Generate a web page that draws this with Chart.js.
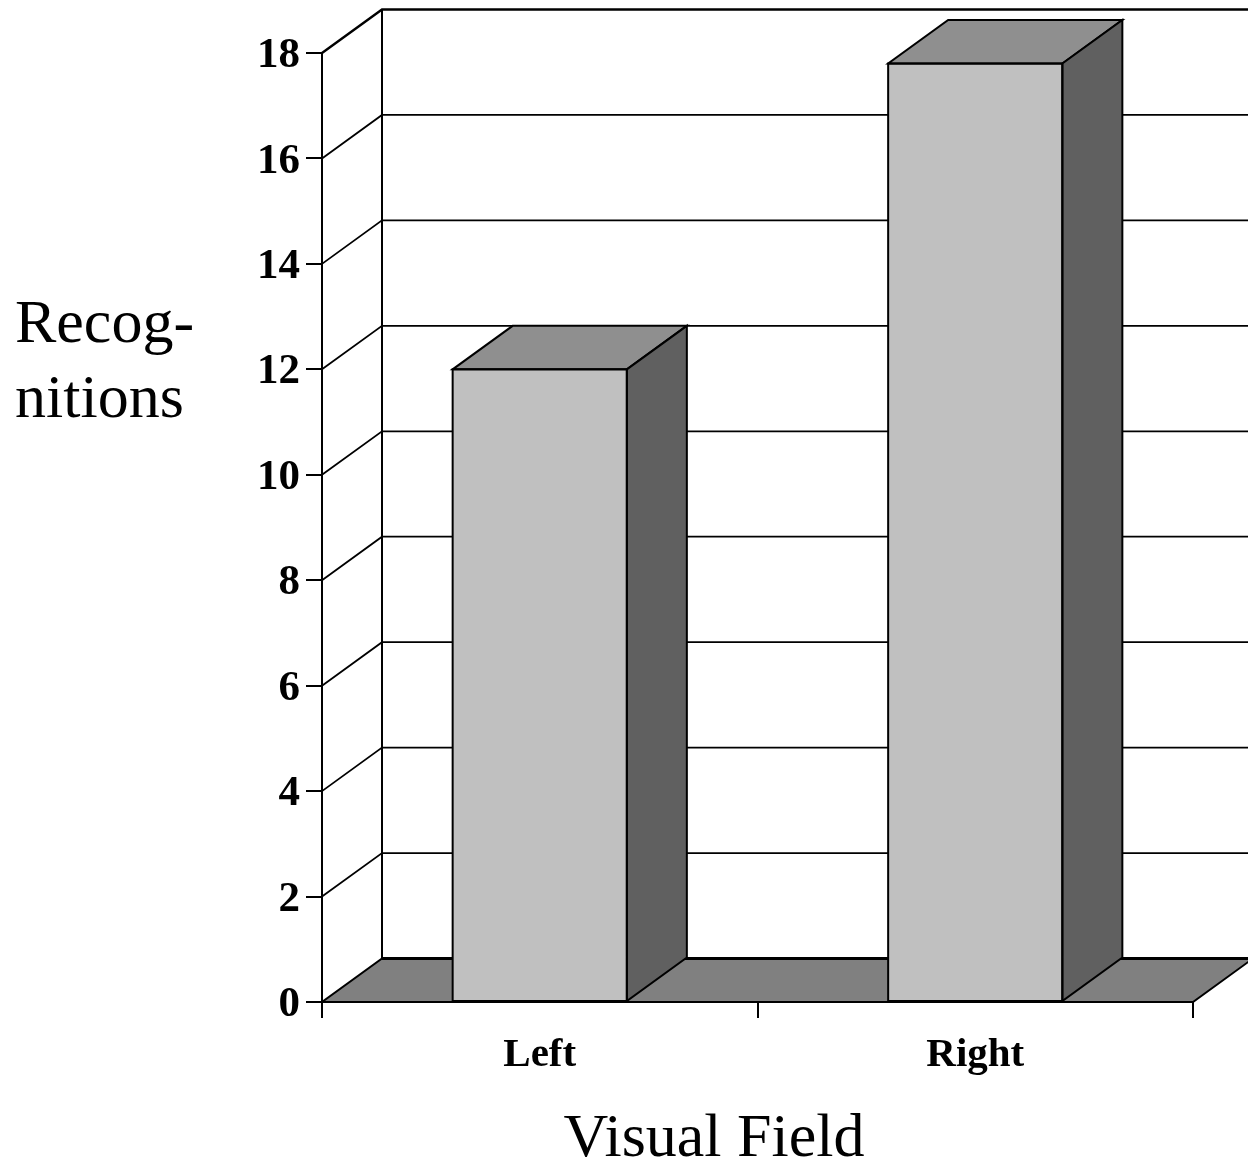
<!DOCTYPE html>
<html>
<head>
<meta charset="utf-8">
<script src="https://cdn.jsdelivr.net/npm/chart.js@4/dist/chart.umd.min.js"></script>
<style>
  html, body { margin: 0; padding: 0; background: #ffffff; }
  #wrap { width: 1248px; height: 1166px; }
</style>
</head>
<body>
<div id="wrap"><canvas id="chart" width="1248" height="1166"></canvas></div>
<script>
// Recognitions by visual field
const categories = ['Left', 'Right'];
const recognitions = [12, 17.8];
const yMin = 0;
const yMax = 18;
const yStep = 2;
const yTitleLines = ['Recog-', 'nitions'];
const xTitle = 'Visual Field';

// Depth offset of the back wall (pseudo-3D look)
const DX = 60;
const DY = -43.5;
const SERIF = '"Liberation Serif", "Times New Roman", serif';

function poly(ctx, pts, fill, lw) {
  ctx.beginPath();
  ctx.moveTo(pts[0][0], pts[0][1]);
  for (let i = 1; i < pts.length; i++) ctx.lineTo(pts[i][0], pts[i][1]);
  ctx.closePath();
  if (fill) { ctx.fillStyle = fill; ctx.fill(); }
  ctx.lineWidth = lw;
  ctx.strokeStyle = '#000000';
  ctx.lineJoin = 'miter';
  ctx.stroke();
}

const wallPlugin = {
  id: 'wall3d',
  beforeDatasetsDraw(chart) {
    const { ctx, chartArea: a, scales: { y } } = chart;
    ctx.save();
    // back wall and side wall grid lines
    ctx.strokeStyle = '#000000';
    y.ticks.forEach(t => {
      if (t.value === yMin) return;
      const py = y.getPixelForValue(t.value);
      ctx.lineWidth = t.value === yMax ? 2.4 : 1.8;
      ctx.beginPath();
      ctx.moveTo(a.left, py);
      ctx.lineTo(a.left + DX, py + DY);
      ctx.lineTo(a.right + DX, py + DY);
      ctx.stroke();
    });
    // back wall left edge
    const yTopBack = y.getPixelForValue(yMax) + DY;
    const yBotBack = y.getPixelForValue(yMin) + DY;
    ctx.lineWidth = 2;
    ctx.beginPath();
    ctx.moveTo(a.left + DX, yTopBack);
    ctx.lineTo(a.left + DX, yBotBack);
    ctx.stroke();
    // floor
    const yb = y.getPixelForValue(yMin);
    poly(ctx, [[a.left, yb], [a.right, yb], [a.right + DX, yb + DY], [a.left + DX, yb + DY]], '#808080', 2);
    ctx.lineWidth = 3;
    ctx.beginPath();
    ctx.moveTo(a.left + DX, yb + DY);
    ctx.lineTo(a.right + DX, yb + DY);
    ctx.stroke();
    ctx.restore();
  },
  afterDatasetsDraw(chart) {
    const { ctx } = chart;
    const meta = chart.getDatasetMeta(0);
    ctx.save();
    meta.data.forEach(bar => {
      const p = bar.getProps(['x', 'y', 'base', 'width'], true);
      const x0 = p.x - p.width / 2;
      const x1 = p.x + p.width / 2;
      // top face
      poly(ctx, [[x0, p.y], [x1, p.y], [x1 + DX, p.y + DY], [x0 + DX, p.y + DY]], '#8f8f8f', 2);
      // side face
      poly(ctx, [[x1, p.y], [x1 + DX, p.y + DY], [x1 + DX, p.base + DY], [x1, p.base]], '#606060', 2);
      // front outline
      ctx.lineWidth = 2;
      ctx.strokeStyle = '#000000';
      ctx.strokeRect(x0, p.y, p.width, p.base - p.y);
    });
    ctx.restore();
  },
  afterDraw(chart) {
    const { ctx } = chart;
    ctx.save();
    ctx.fillStyle = '#000000';
    ctx.textBaseline = 'alphabetic';
    ctx.font = '62px ' + SERIF;
    ctx.textAlign = 'left';
    ctx.fillText(yTitleLines[0], 15, 342);
    ctx.fillText(yTitleLines[1], 15, 417);
    ctx.textAlign = 'center';
    ctx.fillText(xTitle, 714, 1156);
    ctx.restore();
  }
};

new Chart(document.getElementById('chart'), {
  type: 'bar',
  data: {
    labels: categories,
    datasets: [{
      data: recognitions,
      backgroundColor: '#c0c0c0',
      borderColor: '#000000',
      borderWidth: 0,
      barPercentage: 0.4,
      categoryPercentage: 1.0
    }]
  },
  options: {
    responsive: false,
    animation: false,
    devicePixelRatio: 1,
    layout: { padding: { top: 53, right: 55, left: 0, bottom: 0 } },
    plugins: { legend: { display: false }, tooltip: { enabled: false } },
    scales: {
      x: {
        afterFit(scale) { scale.height = 164; },
        grid: { drawOnChartArea: false, drawTicks: true, tickLength: 16, color: '#000000', lineWidth: 2 },
        border: { display: true, color: '#000000', width: 2 },
        ticks: { color: '#000000', padding: 13, font: { family: SERIF, size: 41, weight: 'bold' } }
      },
      y: {
        min: yMin,
        max: yMax,
        afterFit(scale) { scale.width = 322; },
        grid: { drawOnChartArea: false, drawTicks: true, tickLength: 16, color: '#000000', lineWidth: 2 },
        border: { display: true, color: '#000000', width: 2 },
        ticks: { stepSize: yStep, color: '#000000', padding: 6, labelOffset: 3, font: { family: SERIF, size: 43, weight: 'bold' } }
      }
    }
  },
  plugins: [wallPlugin]
});
</script>
</body>
</html>
